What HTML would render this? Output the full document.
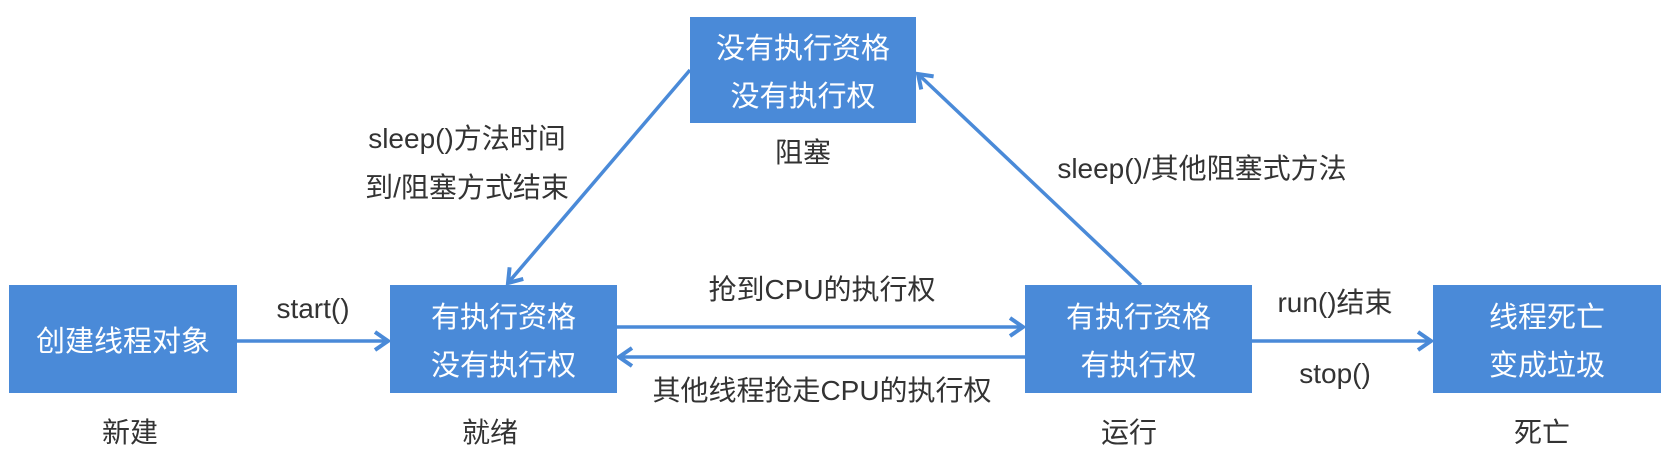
<!DOCTYPE html>
<html><head><meta charset="utf-8"><style>
body{margin:0;width:1674px;height:471px;background:#fff;position:relative;overflow:hidden;font-family:"Liberation Sans","Noto Sans CJK SC",sans-serif;}
.b{position:absolute;background:#4a8ad8;color:#fff;font-size:29px;display:flex;flex-direction:column;justify-content:center;align-items:center;line-height:48px;padding-top:6px;box-sizing:border-box;}
.t{position:absolute;color:#333;font-size:28px;transform:translate(-50%,-50%);white-space:nowrap;line-height:1;}
svg{position:absolute;left:0;top:0;}
</style></head><body>
<svg width="1674" height="471">
<defs><marker id="a" markerWidth="18" markerHeight="22" refX="15" refY="11" orient="auto" markerUnits="userSpaceOnUse"><path d="M2,2 L15,11 L2,20" fill="none" stroke="#4a8ad8" stroke-width="4"/></marker></defs>
<g stroke="#4a8ad8" stroke-width="3.5" fill="none">
<line x1="237" y1="341" x2="388" y2="341" marker-end="url(#a)"/>
<line x1="617" y1="327" x2="1023" y2="327" marker-end="url(#a)"/>
<line x1="1025" y1="357" x2="619" y2="357" marker-end="url(#a)"/>
<line x1="1252" y1="341" x2="1431" y2="341" marker-end="url(#a)"/>
<line x1="690" y1="70" x2="508" y2="283" marker-end="url(#a)"/>
<line x1="1141" y1="285" x2="918" y2="74" marker-end="url(#a)"/>
</g></svg>
<div class="b" style="left:9px;top:285px;width:228px;height:108px">创建线程对象</div>
<div class="b" style="left:390px;top:285px;width:227px;height:108px"><div>有执行资格</div><div>没有执行权</div></div>
<div class="b" style="left:1025px;top:285px;width:227px;height:108px"><div>有执行资格</div><div>有执行权</div></div>
<div class="b" style="left:1433px;top:285px;width:228px;height:108px"><div>线程死亡</div><div>变成垃圾</div></div>
<div class="b" style="left:690px;top:17px;width:226px;height:106px"><div>没有执行资格</div><div>没有执行权</div></div>
<div class="t" style="left:313px;top:309px">start()</div>
<div class="t" style="left:822px;top:290px">抢到CPU的执行权</div>
<div class="t" style="left:822px;top:391px">其他线程抢走CPU的执行权</div>
<div class="t" style="left:1335px;top:303px">run()结束</div>
<div class="t" style="left:1335px;top:374px">stop()</div>
<div class="t" style="left:130px;top:433px">新建</div>
<div class="t" style="left:490px;top:433px">就绪</div>
<div class="t" style="left:1129px;top:433px">运行</div>
<div class="t" style="left:1542px;top:433px">死亡</div>
<div class="t" style="left:803px;top:153px">阻塞</div>
<div class="t" style="left:467px;top:139px">sleep()方法时间</div>
<div class="t" style="left:467px;top:188px">到/阻塞方式结束</div>
<div class="t" style="left:1202px;top:169px">sleep()/其他阻塞式方法</div>
</body></html>
